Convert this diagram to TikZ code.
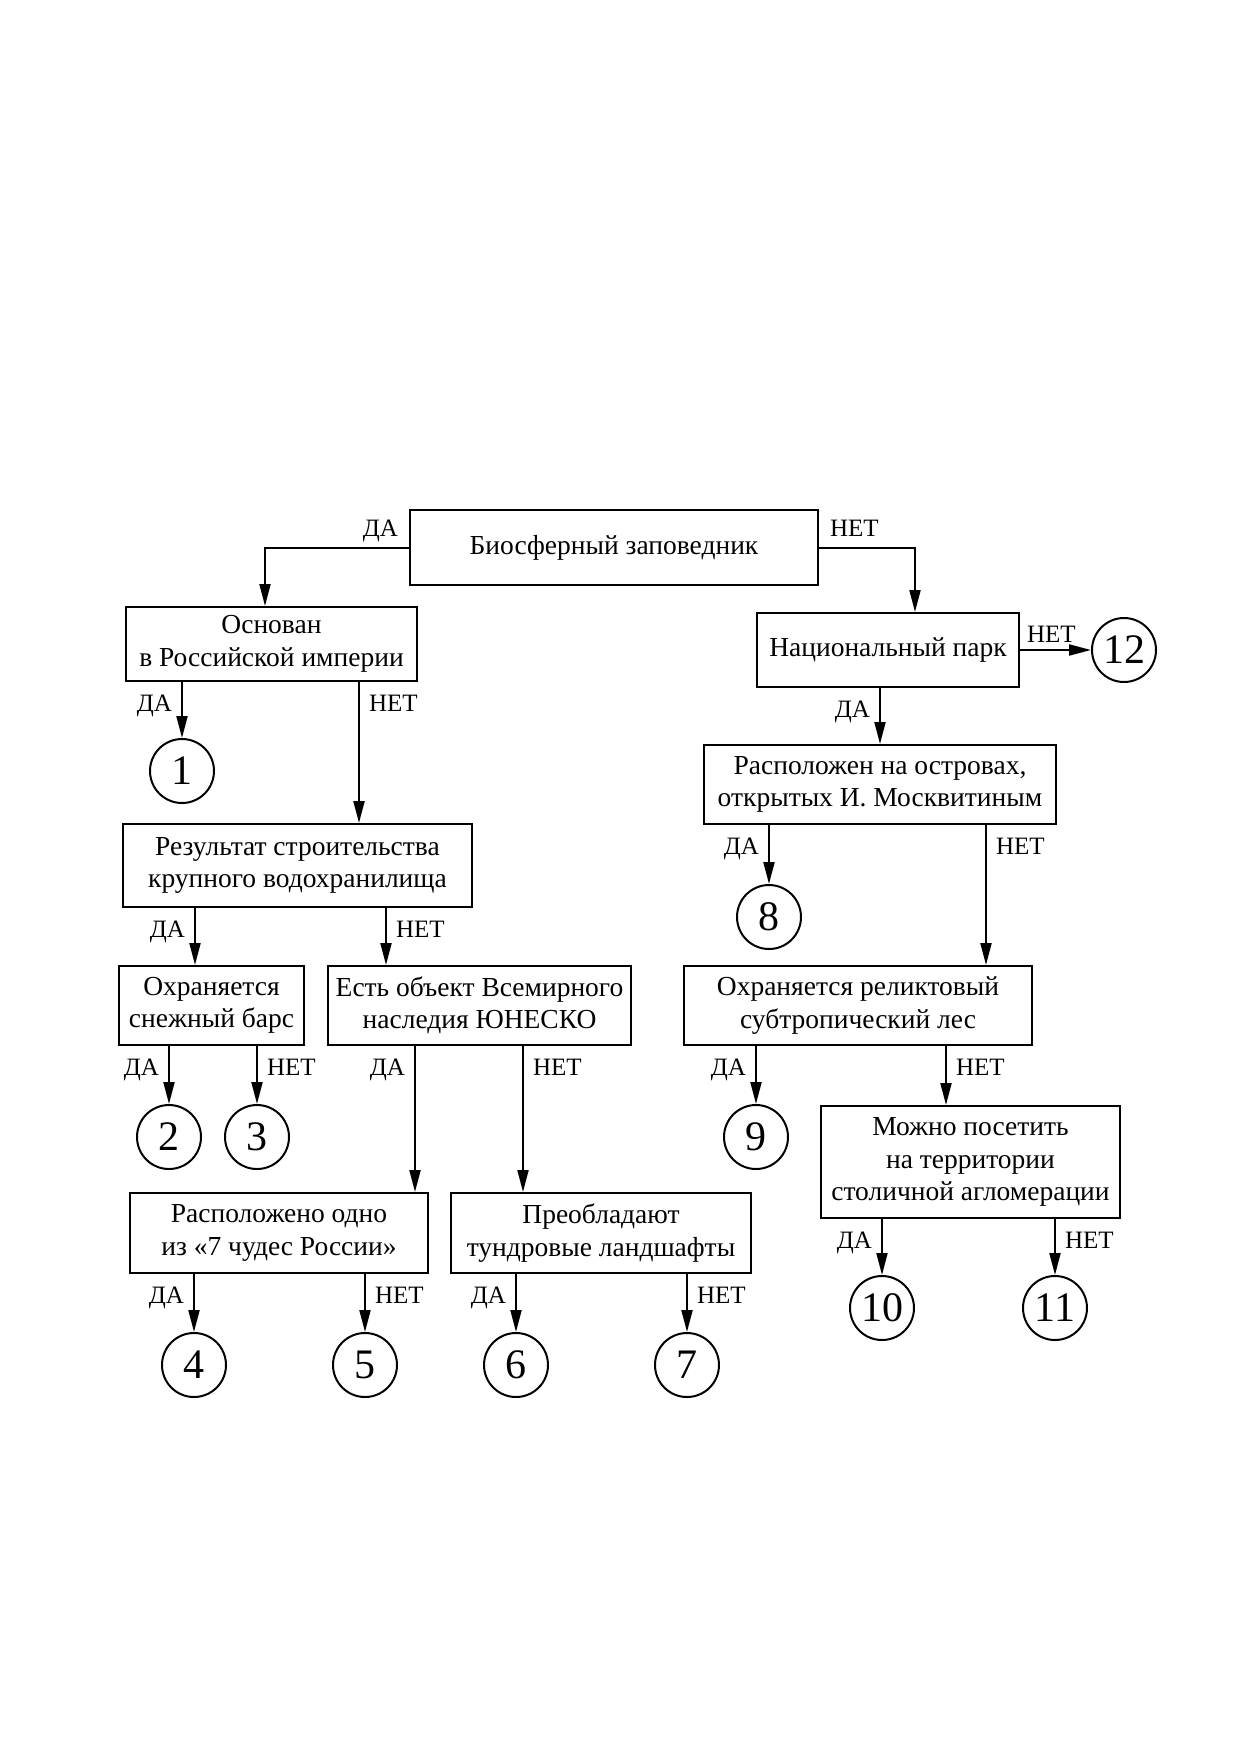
\documentclass[tikz,border=0pt]{standalone}
\usepackage{fontspec}
\setmainfont{Liberation Serif}
\usetikzlibrary{arrows.meta}

\newcommand{\bxfont}{\fontsize{27.5}{32.5}\selectfont}
\newcommand{\lbfont}{\fontsize{25}{25}\selectfont}
\newcommand{\nmfont}{\fontsize{42}{42}\selectfont}

\tikzset{
  box/.style={draw, line width=2pt, align=center, inner sep=0pt, font=\bxfont},
  leaf/.style={draw, circle, line width=2pt, minimum size=64pt, inner sep=0pt, font=\nmfont},
  arr/.style={line width=2pt, -{Triangle[length=22pt,width=11pt]}},
  yes/.style={font=\lbfont, inner sep=0pt, anchor=north east, xshift=-9pt, yshift=-12pt},
  no/.style={font=\lbfont, inner sep=0pt, anchor=north west, xshift=9pt, yshift=-12pt},
}

\begin{document}
\begin{tikzpicture}[x=1pt, y=-1pt]
  \useasboundingbox (0,0) rectangle (1240,1754);

  % вопросы
  \node[box, minimum width=408pt, minimum height=75pt] (bio) at (614,547.5) {Биосферный заповедник};
  \node[box, minimum width=291pt, minimum height=74pt] (osn) at (271.5,644) {Основан\\в Российской империи};
  \node[box, minimum width=349pt, minimum height=83pt] (res) at (297.5,865.5) {Результат строительства\\крупного водохранилища};
  \node[box, minimum width=185pt, minimum height=79pt] (bars) at (211.5,1005.5) {Охраняется\\снежный барс};
  \node[box, minimum width=303pt, minimum height=79pt] (unesco) at (479.5,1005.5) {Есть объект Всемирного\\наследия ЮНЕСКО};
  \node[box, minimum width=298pt, minimum height=80pt] (chud) at (279,1233) {Расположено одно\\из «7 чудес России»};
  \node[box, minimum width=300pt, minimum height=80pt] (tund) at (601,1233) {Преобладают\\тундровые ландшафты};
  \node[box, minimum width=262pt, minimum height=74pt] (nac) at (888,650) {Национальный парк};
  \node[box, minimum width=352pt, minimum height=79pt] (ostr) at (880,784.5) {Расположен на островах,\\открытых И. Москвитиным};
  \node[box, minimum width=348pt, minimum height=79pt] (les) at (858,1005.5) {Охраняется реликтовый\\субтропический лес};
  \node[box, minimum width=299pt, minimum height=112pt] (stol) at (970.5,1162) {Можно посетить\\на территории\\столичной агломерации};

  % ответы
  \node[leaf] (c1) at (182,771) {1};
  \node[leaf] (c2) at (169,1137) {2};
  \node[leaf] (c3) at (257,1137) {3};
  \node[leaf] (c4) at (194,1365) {4};
  \node[leaf] (c5) at (365,1365) {5};
  \node[leaf] (c6) at (516,1365) {6};
  \node[leaf] (c7) at (687,1365) {7};
  \node[leaf] (c8) at (769,917) {8};
  \node[leaf] (c9) at (756,1137) {9};
  \node[leaf] (c10) at (882,1308) {10};
  \node[leaf] (c11) at (1055,1308) {11};
  \node[leaf] (c12) at (1124,650) {12};

  % стрелки
  \draw[arr] (bio.west) node[font=\lbfont, inner sep=0pt, anchor=base east, xshift=-10pt, yshift=11pt] {ДА} -| (265,0 |- osn.north);
  \draw[arr] (bio.east) node[font=\lbfont, inner sep=0pt, anchor=base west, xshift=10pt, yshift=11pt] {НЕТ} -| (915,0 |- nac.north);
  \draw[arr] (nac.east) node[font=\lbfont, inner sep=0pt, anchor=base west, xshift=6pt, yshift=8pt] {НЕТ} -- (c12);

  \draw[arr] (osn.south -| c1) node[yes] {ДА} -- (c1);
  \draw[arr] (osn.south -| 359,0) node[no] {НЕТ} -- (res.north -| 359,0);
  \draw[arr] (res.south -| 195,0) node[yes] {ДА} -- (bars.north -| 195,0);
  \draw[arr] (res.south -| 386,0) node[no] {НЕТ} -- (unesco.north -| 386,0);
  \draw[arr] (bars.south -| c2) node[yes] {ДА} -- (c2);
  \draw[arr] (bars.south -| c3) node[no] {НЕТ} -- (c3);
  \draw[arr] (unesco.south -| 415,0) node[yes] {ДА} -- (chud.north -| 415,0);
  \draw[arr] (unesco.south -| 523,0) node[no] {НЕТ} -- (tund.north -| 523,0);
  \draw[arr] (chud.south -| c4) node[yes] {ДА} -- (c4);
  \draw[arr] (chud.south -| c5) node[no] {НЕТ} -- (c5);
  \draw[arr] (tund.south -| c6) node[yes] {ДА} -- (c6);
  \draw[arr] (tund.south -| c7) node[no] {НЕТ} -- (c7);

  \draw[arr] (nac.south -| ostr.north) node[yes] {ДА} -- (ostr.north);
  \draw[arr] (ostr.south -| c8) node[yes] {ДА} -- (c8);
  \draw[arr] (ostr.south -| 986,0) node[no] {НЕТ} -- (les.north -| 986,0);
  \draw[arr] (les.south -| c9) node[yes] {ДА} -- (c9);
  \draw[arr] (les.south -| 946,0) node[no] {НЕТ} -- (stol.north -| 946,0);
  \draw[arr] (stol.south -| c10) node[yes] {ДА} -- (c10);
  \draw[arr] (stol.south -| c11) node[no] {НЕТ} -- (c11);
\end{tikzpicture}
\end{document}
